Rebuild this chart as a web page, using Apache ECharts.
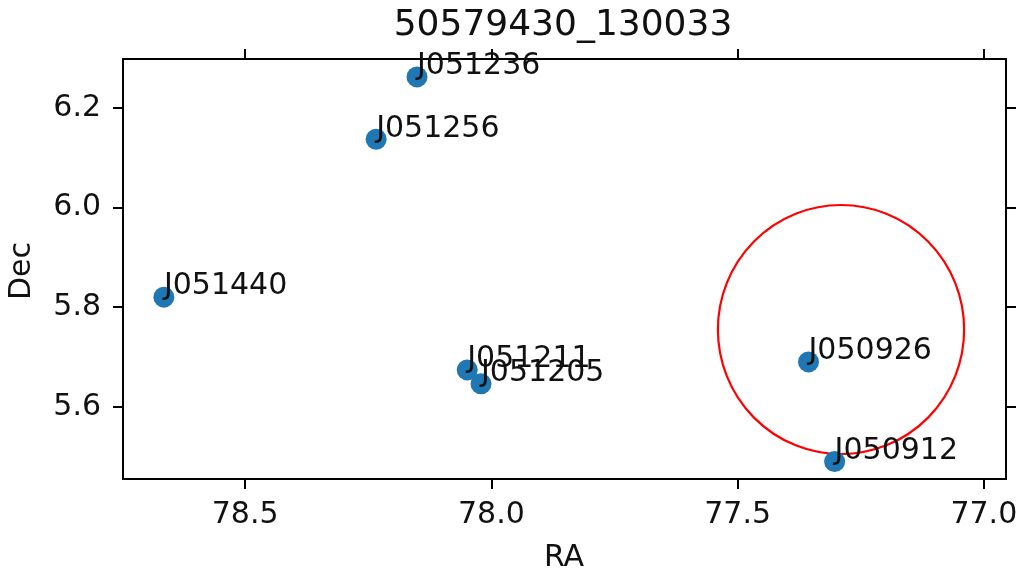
<!DOCTYPE html>
<html>
<head>
<meta charset="utf-8">
<script src="https://cdn.jsdelivr.net/npm/echarts@6/dist/echarts.min.js"></script>
<style>html,body{margin:0;padding:0;background:#fff}#c{width:1016px;height:574px}</style>
</head>
<body>
<div id="c"></div>
<script>
// ---- data ----
const titleText = '50579430_130033';
const names = ['J051236', 'J051256', 'J051440', 'J051211', 'J051205', 'J050926', 'J050912'];
const ra    = [78.151, 78.234, 78.665, 78.049, 78.021, 77.356, 77.303];
const dec   = [6.262, 6.137, 5.820, 5.674, 5.646, 5.690, 5.490];
const circleCenter = [77.29, 5.755];
const circleRadius = 0.25;
const xTicks = [78.5, 78.0, 77.5, 77.0];
const yTicks = [5.6, 5.8, 6.0, 6.2];
const xRange = [76.955, 78.748];
const yRange = [5.455, 6.298];

const FONT = 'DejaVu Sans';
const FS = 30;
const chart = echarts.init(document.getElementById('c'), null, {renderer: 'canvas'});
const pts = names.map((n, i) => ({name: n, value: [ra[i], dec[i]]}));

const spine = {show: true, onZero: false, lineStyle: {color: '#000', width: 2}};
const tick = (vals) => ({show: true, inside: false, length: 10, customValues: vals, lineStyle: {color: '#000', width: 2}});

chart.setOption({
  animation: false,
  grid: {left: 123, right: 10, top: 59, bottom: 95, containLabel: false, outerBoundsMode: 'none'},
  xAxis: [
    {type: 'value', inverse: true, min: xRange[0], max: xRange[1], position: 'bottom',
     axisLine: spine, axisTick: tick(xTicks), splitLine: {show: false},
     axisLabel: {customValues: xTicks, margin: 21, fontSize: FS, fontFamily: FONT, color: '#111',
                 hideOverlap: false, showMinLabel: true, showMaxLabel: true,
                 formatter: v => v.toFixed(1)}},
    {type: 'value', inverse: true, min: xRange[0], max: xRange[1], position: 'top',
     axisLine: spine, axisTick: tick(xTicks), splitLine: {show: false},
     axisLabel: {show: false, customValues: xTicks}}
  ],
  yAxis: [
    {type: 'value', min: yRange[0], max: yRange[1], position: 'left',
     axisLine: spine, axisTick: tick(yTicks), splitLine: {show: false},
     axisLabel: {customValues: yTicks, margin: 22, fontSize: FS, fontFamily: FONT, color: '#111',
                 formatter: v => v.toFixed(1)}},
    {type: 'value', min: yRange[0], max: yRange[1], position: 'right',
     axisLine: spine, axisTick: tick(yTicks), splitLine: {show: false},
     axisLabel: {show: false, customValues: yTicks}}
  ],
  graphic: [
    {type: 'text', x: 563, y: 26, style: {text: titleText, font: '36px "DejaVu Sans"', fill: '#111', align: 'center', verticalAlign: 'middle'}},
    {type: 'text', x: 564, y: 558, style: {text: 'RA', font: FS + 'px "DejaVu Sans"', fill: '#111', align: 'center', verticalAlign: 'middle'}},
    {type: 'text', x: 22, y: 271, rotation: Math.PI / 2, style: {text: 'Dec', font: FS + 'px "DejaVu Sans"', fill: '#111', align: 'center', verticalAlign: 'middle'}}
  ],
  series: [
    {type: 'scatter', xAxisIndex: 0, yAxisIndex: 0, symbolSize: 21,
     itemStyle: {color: '#1f77b4', opacity: 1},
     label: {show: true, formatter: p => p.name, position: [10.5, 0], align: 'left', verticalAlign: 'middle',
             fontSize: FS, fontFamily: FONT, color: '#111'},
     labelLayout: {hideOverlap: false},
     emphasis: {disabled: true},
     data: pts, z: 3},
    {type: 'custom', xAxisIndex: 0, yAxisIndex: 0, silent: true, z: 2,
     data: [[circleCenter[0], circleCenter[1], circleRadius]],
     renderItem: (params, api) => {
       const c = api.coord([api.value(0), api.value(1)]);
       const s = api.size([api.value(2), api.value(2)]);
       const rx = s[0], ry = s[1];
       return {type: 'path', shape: {pathData:
         'M' + (c[0] - rx) + ' ' + c[1] +
         ' A' + rx + ' ' + ry + ' 0 1 0 ' + (c[0] + rx) + ' ' + c[1] +
         ' A' + rx + ' ' + ry + ' 0 1 0 ' + (c[0] - rx) + ' ' + c[1] + ' Z'},
         style: {fill: 'none', stroke: '#ff0000', lineWidth: 2.2}};
     }}
  ]
});
</script>
</body>
</html>
